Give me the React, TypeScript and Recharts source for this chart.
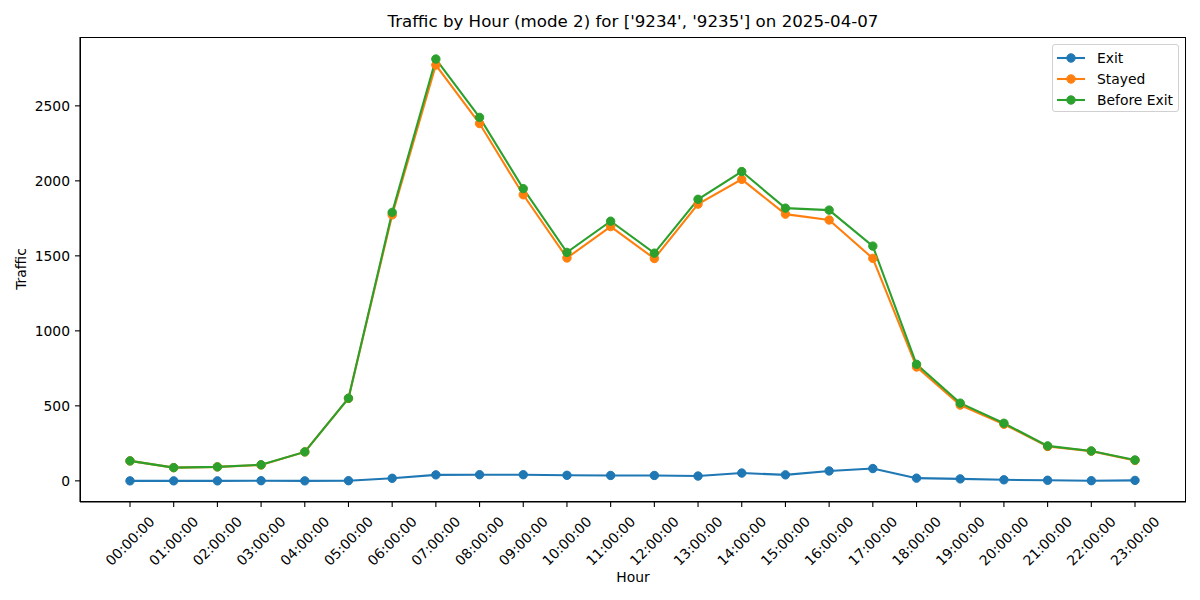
import React from "react";
import { LineChart, Line, XAxis, YAxis } from "recharts";

const hours = [
  "00:00:00", "01:00:00", "02:00:00", "03:00:00", "04:00:00", "05:00:00",
  "06:00:00", "07:00:00", "08:00:00", "09:00:00", "10:00:00", "11:00:00",
  "12:00:00", "13:00:00", "14:00:00", "15:00:00", "16:00:00", "17:00:00",
  "18:00:00", "19:00:00", "20:00:00", "21:00:00", "22:00:00", "23:00:00",
];
const exitValues = [0, 0, 0, 1, 0, 1, 17, 40, 41, 41, 37, 36, 36, 32, 52, 40, 66, 82, 18, 13, 7, 4, 1, 3];
const stayedValues = [133, 88, 93, 106, 193, 550, 1773, 2772, 2382, 1907, 1486, 1695, 1482, 1845, 2010, 1778, 1739, 1483, 759, 505, 377, 229, 198, 136];
const beforeExitValues = [133, 88, 93, 107, 193, 551, 1790, 2812, 2423, 1948, 1523, 1731, 1518, 1877, 2062, 1818, 1805, 1565, 777, 518, 384, 233, 199, 139];
const yTicks = [0, 500, 1000, 1500, 2000, 2500];

const seriesDefs = [
  { key: "Exit", color: "#1f77b4", values: exitValues },
  { key: "Stayed", color: "#ff7f0e", values: stayedValues },
  { key: "Before Exit", color: "#2ca02c", values: beforeExitValues },
];

const data = hours.map((h, i) => {
  const row: Record<string, any> = { hour: h };
  seriesDefs.forEach((s) => (row[s.key] = s.values[i]));
  return row;
});

const FONT = "'DejaVu Sans', sans-serif";
const TICK_FS = 13.89;

const XTick = (props: any) => {
  const { x, y, payload } = props;
  return (
    <g transform={`translate(${x},${y + 34})`}>
      <text
        transform="rotate(-45)"
        textAnchor="middle"
        dy="0.35em"
        fontSize={TICK_FS}
        fontFamily={FONT}
        fill="#000"
      >
        {payload.value}
      </text>
    </g>
  );
};

const YTick = (props: any) => {
  const { x, y, payload } = props;
  return (
    <text
      x={x}
      y={y}
      textAnchor="end"
      dy="0.35em"
      fontSize={TICK_FS}
      fontFamily={FONT}
      fill="#000"
    >
      {payload.value}
    </text>
  );
};

export default function App() {
  return (
    <div style={{ position: "absolute", left: 0, top: 0, width: 1200, height: 600, background: "#fff", fontFamily: FONT }}>
      <LineChart width={1200} height={600} data={data} margin={{ top: 37, right: 14, bottom: 0, left: 0 }}>
        <XAxis
          dataKey="hour"
          type="category"
          interval={0}
          padding={{ left: 50, right: 51 }}
          height={98}
          tickSize={5}
          tickMargin={0}
          stroke="#000"
          tickLine={{ stroke: "#000", strokeWidth: 1.1 }}
          axisLine={{ stroke: "#000", strokeWidth: 1.1 }}
          tick={<XTick />}
        />
        <YAxis
          type="number"
          domain={[-141, 2959]}
          ticks={yTicks}
          width={80}
          tickSize={5}
          tickMargin={5}
          allowDataOverflow
          stroke="#000"
          tickLine={{ stroke: "#000", strokeWidth: 1.1 }}
          axisLine={{ stroke: "#000", strokeWidth: 1.1 }}
          tick={<YTick />}
        />
        {seriesDefs.map((s) => (
          <Line
            key={s.key}
            dataKey={s.key}
            stroke={s.color}
            strokeWidth={2.08}
            dot={{ r: 4.2, fill: s.color, stroke: s.color, strokeWidth: 1 }}
            activeDot={false}
            isAnimationActive={false}
          />
        ))}
      </LineChart>
      {/* frame */}
      <div style={{ position: "absolute", left: 80, top: 37, width: 1106, height: 465, border: "1.1px solid #000", boxSizing: "border-box", pointerEvents: "none" }} />
      {/* title */}
      <div style={{ position: "absolute", left: 80, width: 1106, top: 12, textAlign: "center", fontSize: 16.67, lineHeight: "20px", color: "#000", whiteSpace: "nowrap" }}>
        Traffic by Hour (mode 2) for ['9234', '9235'] on 2025-04-07
      </div>
      {/* x label */}
      <div style={{ position: "absolute", left: 80, width: 1106, top: 568, textAlign: "center", fontSize: TICK_FS, lineHeight: "18px", color: "#000" }}>
        Hour
      </div>
      {/* y label */}
      <div style={{ position: "absolute", left: 21, top: 269, width: 0, height: 0 }}>
        <div style={{ position: "absolute", transform: "translate(-50%,-50%) rotate(-90deg)", fontSize: TICK_FS, lineHeight: "18px", whiteSpace: "nowrap", color: "#000" }}>
          Traffic
        </div>
      </div>
      {/* legend */}
      <div style={{ position: "absolute", left: 1052, top: 44, width: 127, height: 68, border: "1px solid #d0d0d0", borderRadius: 3, boxSizing: "border-box", background: "rgba(255,255,255,0.8)" }}>
        {seriesDefs.map((s, i) => (
          <div key={s.key} style={{ position: "absolute", left: 3, top: 4 + i * 20.8, height: 18, display: "flex", alignItems: "center" }}>
            <svg width={30} height={18}>
              <line x1={1} y1={9} x2={29} y2={9} stroke={s.color} strokeWidth={2.08} />
              <circle cx={15} cy={9} r={4.2} fill={s.color} stroke={s.color} strokeWidth={1} />
            </svg>
            <span style={{ marginLeft: 11, fontSize: TICK_FS, lineHeight: "18px", color: "#000", whiteSpace: "nowrap" }}>{s.key}</span>
          </div>
        ))}
      </div>
    </div>
  );
}
